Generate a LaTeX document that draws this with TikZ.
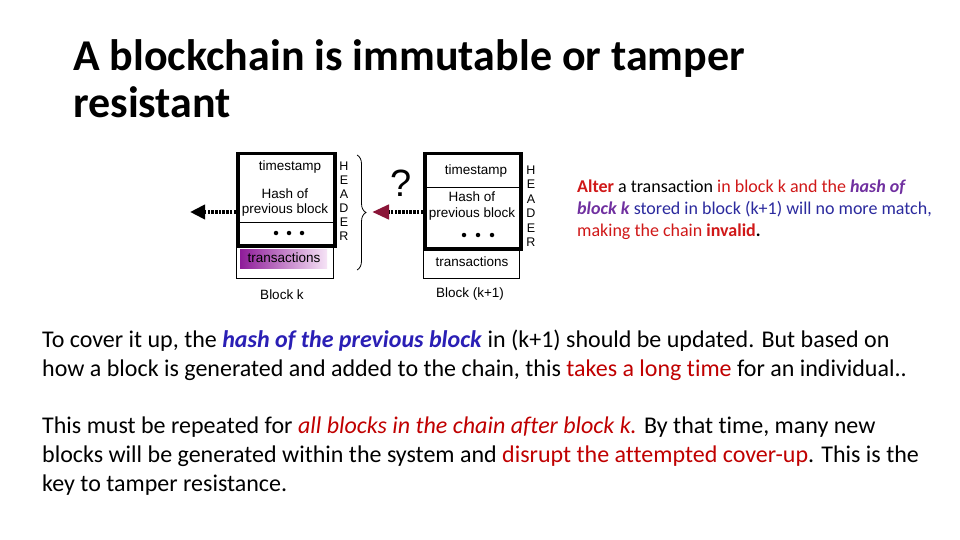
\documentclass[tikz,border=0pt]{standalone}
\usepackage{fontspec}
\setmainfont{Carlito}[Ligatures=NoCommon]
\newfontfamily\arialf{Liberation Sans}
\usetikzlibrary{arrows.meta,decorations.pathreplacing,shadings}
\definecolor{dred}{HTML}{C00000}
\definecolor{rred}{HTML}{D01818}
\definecolor{hblue}{HTML}{2A1FB5}
\definecolor{nblue}{HTML}{2B2A9E}
\definecolor{purp}{HTML}{7030A0}
\definecolor{maroon}{HTML}{8A1538}
\definecolor{tpurp}{HTML}{8E1B99}
\definecolor{tlight}{HTML}{F6E4F6}
\tikzset{
  txt/.style={inner sep=0pt, anchor=base west, align=left},
  hdrbox/.style={draw, line width=3.5pt, anchor=north west, inner sep=0pt},
  cellbox/.style={draw, line width=0.8pt, anchor=north west, inner sep=0pt},
  dtxt/.style={inner sep=0pt, font=\arialf\fontsize{13.5}{14}\selectfont},
  hletter/.style={inner sep=0pt, font=\arialf\fontsize{12.5}{13}\selectfont},
  dotmark/.style={fill=black, circle, inner sep=0pt, minimum size=4.5pt},
  blkptr/.style={line width=4.5pt, dash pattern=on 2.5pt off 1.2pt},
  brc/.style={draw, line width=0.8pt, decorate, decoration={brace, amplitude=9pt}}
}
\begin{document}
\begin{tikzpicture}[x=1pt,y=-1pt]
\useasboundingbox[fill=white] (0,0) rectangle (960,540);

% title (base anchor = baseline of last line)
\node[txt, font=\fontsize{44}{47}\selectfont\bfseries] (title) at (73,118)
  {A blockchain is immutable or tamper\\resistant};

% ---------- Block k ----------
\node[cellbox, minimum width=97, minimum height=34] (tk) at (236,244) {};
\shade[left color=tpurp, right color=tlight] (240,249) rectangle (327,268);
\node[dtxt] (tktxt) at (284,258) {transactions};
\node[hdrbox, minimum width=97, minimum height=92] (hk) at (236,152) {};
\draw[line width=0.8pt] (236,222) -- (333,222);
\node[dtxt] (tsk) at (290,167) {timestamp};
\node[dtxt] (hak) at (285,194) {Hash of};
\node[dtxt] (pbk) at (285,210) {previous block};
\node[dotmark] (dk1) at (276,233) {};
\node[dotmark] (dk2) at (289,233) {};
\node[dotmark] (dk3) at (302,233) {};
\node[hletter] (k1) at (344,166) {H};
\node[hletter] (k2) at (344,180) {E};
\node[hletter] (k3) at (344,194) {A};
\node[hletter] (k4) at (344,208) {D};
\node[hletter] (k5) at (344,222) {E};
\node[hletter] (k6) at (344,236) {R};
\node[dtxt] (bk) at (282,295) {Block k};
\path[brc] (357,155) -- (357,270);

% ---------- Block k+1 ----------
\node[cellbox, minimum width=96, minimum height=31] (tk1) at (423,247) {};
\node[dtxt] (tk1txt) at (472,262) {transactions};
\node[hdrbox, minimum width=96, minimum height=95] (hk1) at (423,152) {};
\draw[line width=0.8pt] (423,187) -- (519,187);
\node[dtxt] (tsk1) at (476,171) {timestamp};
\node[dtxt] (hak1) at (472,197) {Hash of};
\node[dtxt] (pbk1) at (472,214) {previous block};
\node[dotmark] (dj1) at (464,235) {};
\node[dotmark] (dj2) at (478,235) {};
\node[dotmark] (dj3) at (492,235) {};
\node[hletter] (j1) at (531,170) {H};
\node[hletter] (j2) at (531,184) {E};
\node[hletter] (j3) at (531,199) {A};
\node[hletter] (j4) at (531,213) {D};
\node[hletter] (j5) at (531,228) {E};
\node[hletter] (j6) at (531,242) {R};
\node[dtxt] (bk1) at (470,294) {Block (k+1)};
\node[inner sep=0pt, font=\arialf\fontsize{38}{40}\selectfont] (q) at (401,183) {?};

% pointers
\coordinate (outk) at (236,212);
\coordinate (endk) at (190,212);
\coordinate (outk1) at (423,212);
\coordinate (endk1) at (372,212);
\draw[blkptr, -{Triangle[length=15pt, width=14pt]}] (outk) -- (endk);
\draw[blkptr, -{Triangle[length=17pt, width=14pt, color=maroon]}] (outk1) -- (endk1);

% right note
\node[txt, font=\fontsize{18}{22}\selectfont] (note) at (577,236)
  {\textcolor{rred}{\textbf{Alter}} a transaction \textcolor{rred}{in block k and the} \textcolor{purp}{\textbf{\textit{hash of}}}\\
   \textcolor{purp}{\textbf{\textit{block k}}} \textcolor{nblue}{stored in block (k+1) will no more match,}\\
   \textcolor{rred}{making the chain \textbf{invalid}}\textbf{.}};

% body
\node[txt, font=\fontsize{24}{28.7}\selectfont] (p1) at (42,376)
  {To cover it up, the \textcolor{hblue}{\textbf{\textit{hash of the previous block}}} in (k+1) should be updated. But based on\\
   how a block is generated and added to the chain, this \textcolor{dred}{takes a long time} for an individual..};
\node[txt, font=\fontsize{24}{28.7}\selectfont] (p2) at (42,491)
  {This must be repeated for \textcolor{dred}{\textit{all blocks in the chain after block k.}} By that time, many new\\
   blocks will be generated within the system and \textcolor{dred}{disrupt the attempted cover-up}. This is the\\
   key to tamper resistance.};
\end{tikzpicture}
\end{document}
